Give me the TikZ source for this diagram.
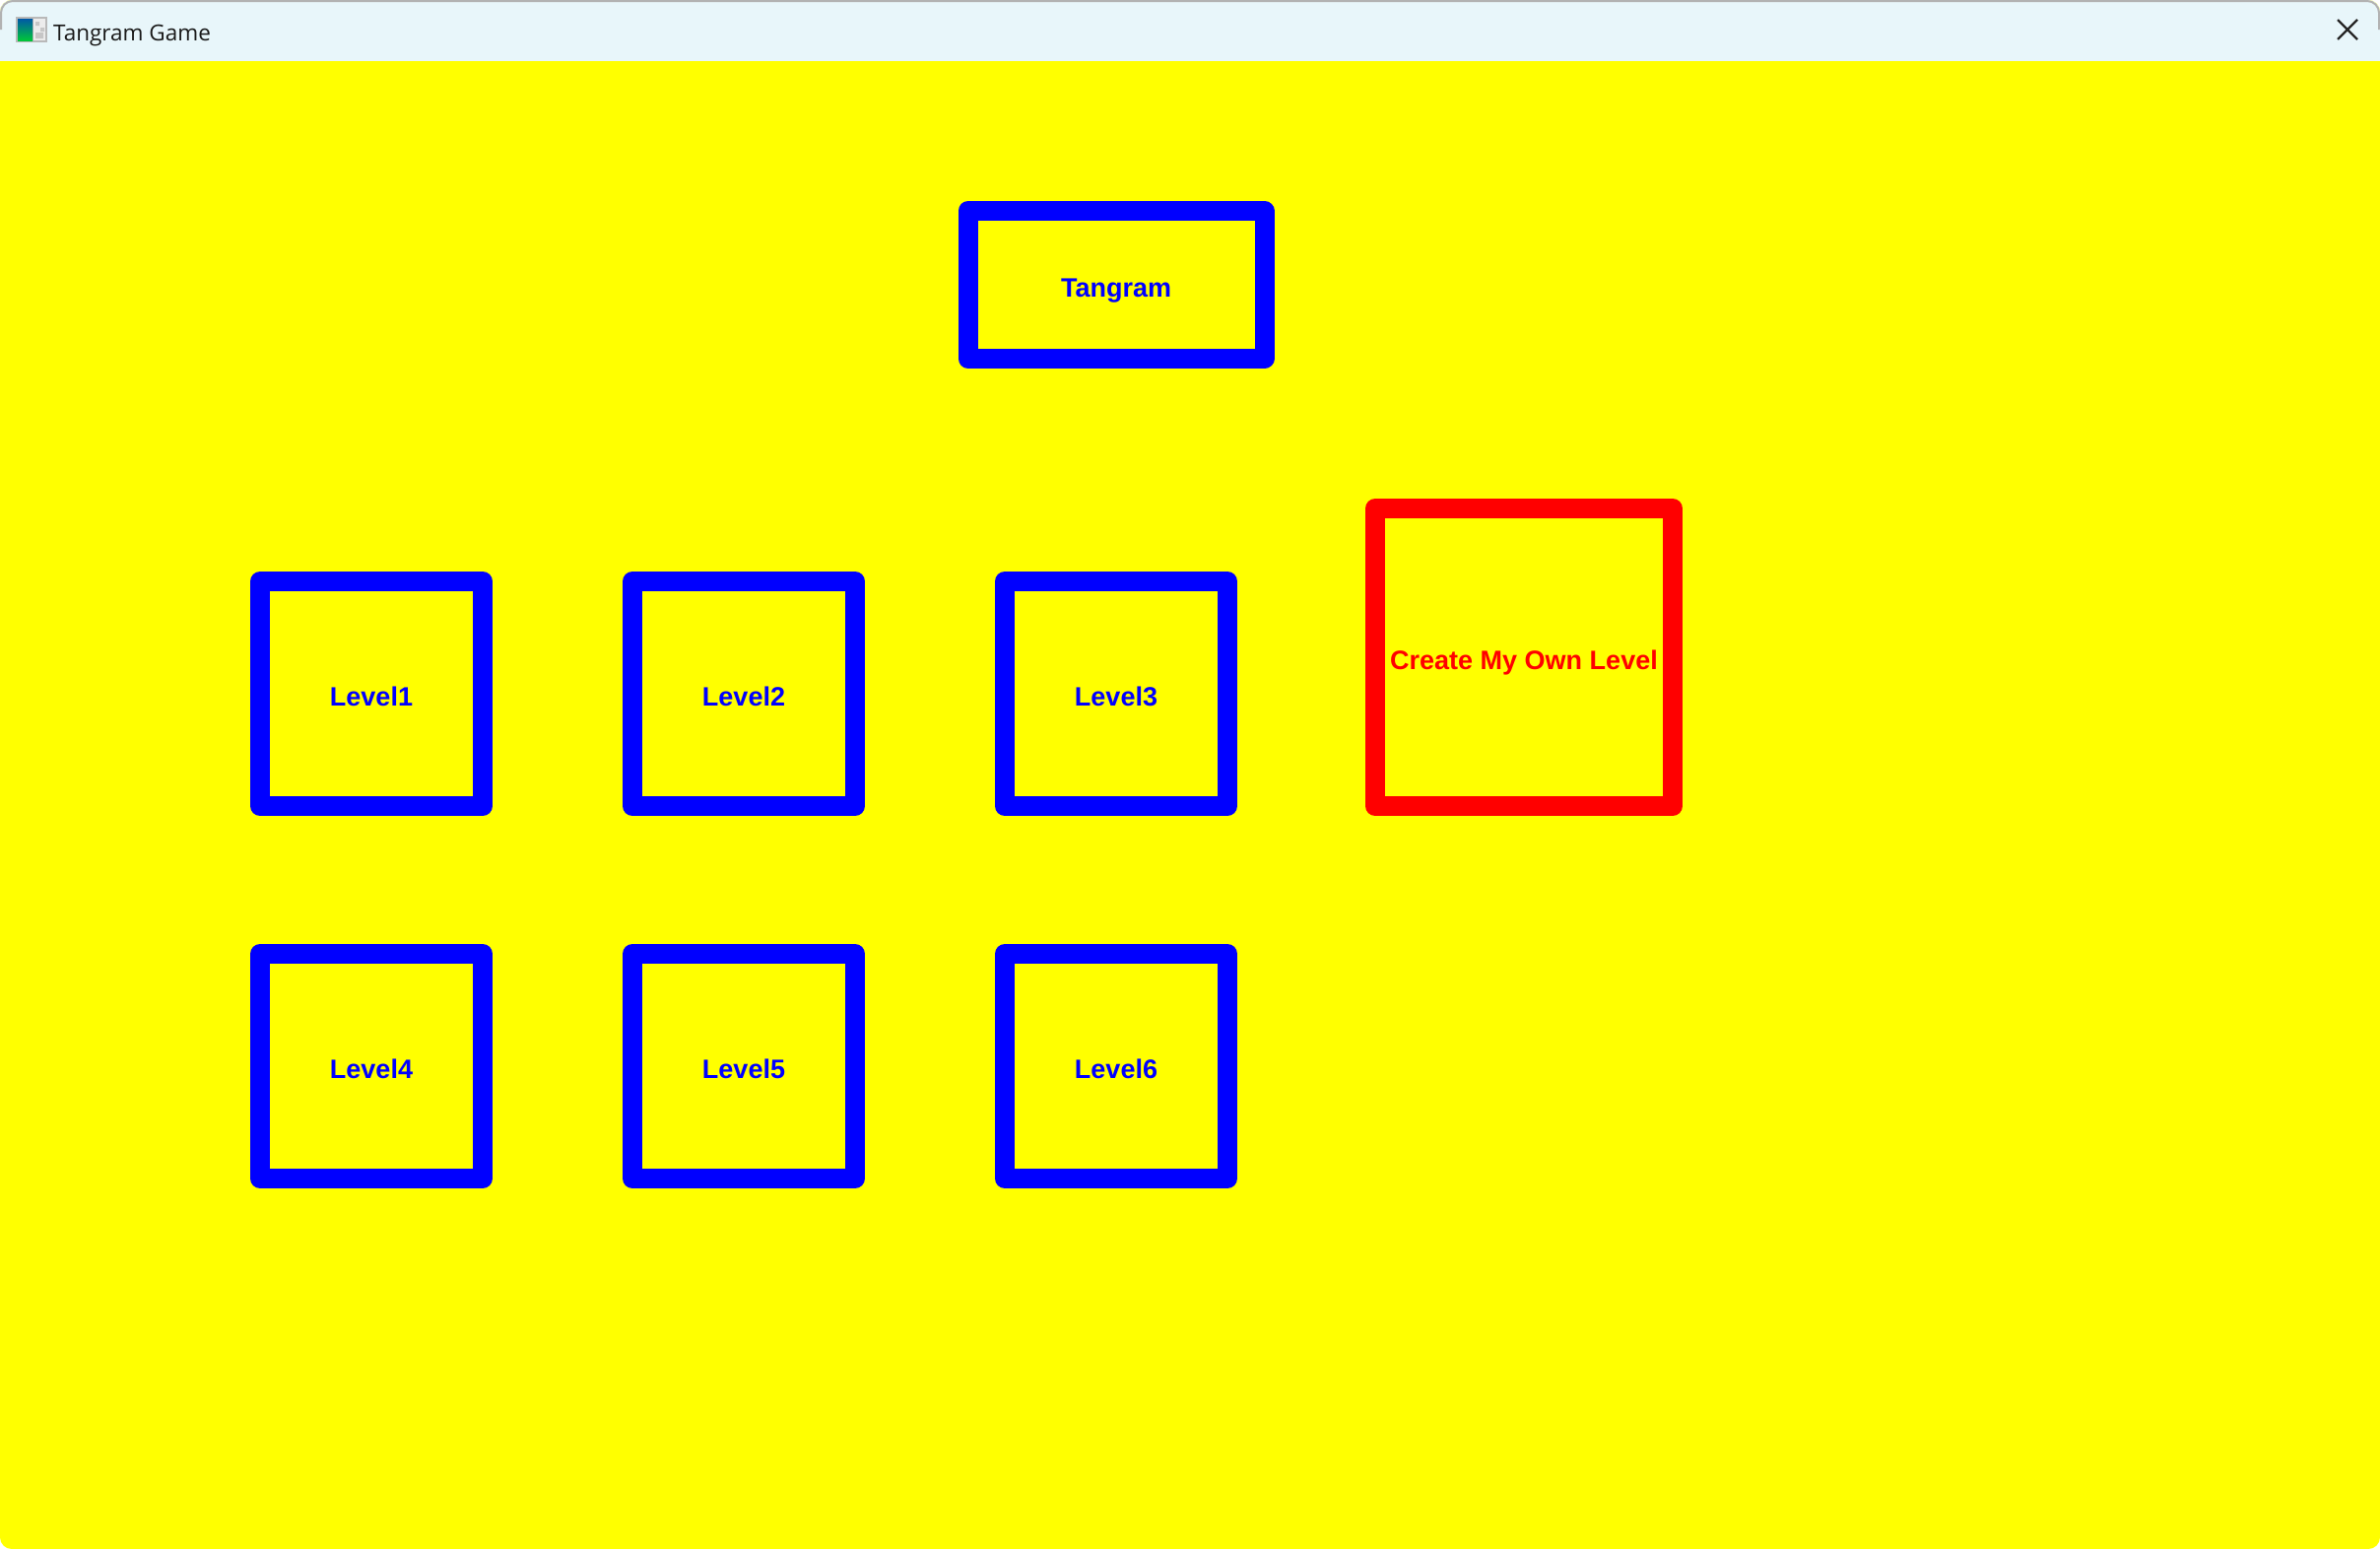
\documentclass[tikz,border=0pt]{standalone}
\usepackage{fontspec}
\setmainfont{Liberation Sans}
\newfontfamily\uifont{Open Sans}
\usetikzlibrary{positioning}

\definecolor{gameyellow}{RGB}{255,255,0}
\definecolor{gameblue}{RGB}{0,0,255}
\definecolor{gamered}{RGB}{255,0,0}
\definecolor{barcyan}{RGB}{232,246,250}
\definecolor{framegray}{RGB}{178,178,178}

\begin{document}
\begin{tikzpicture}[
    x=1pt, y=-1pt,
    node distance=130pt and 132pt,
    btn/.style={rectangle, draw, line width=20pt, line join=round, outer sep=10pt, inner sep=0pt, text height=24pt, text depth=0pt, font=\bfseries\fontsize{27}{30}\selectfont},
    levelbtn/.style={btn, draw=gameblue, text=gameblue, minimum width=226pt, minimum height=228pt},
    titlebtn/.style={btn, draw=gameblue, text=gameblue, minimum width=301pt, minimum height=150pt},
    createbtn/.style={btn, draw=gamered, text=gamered, minimum width=302pt, minimum height=302pt},
    caption/.style={anchor=base west, inner sep=0pt, font=\uifont\fontsize{22.5}{26}\selectfont, text=black!90}
  ]

  % window
  \useasboundingbox (0,0) rectangle (2416,1572);
  \fill[white] (0,0) rectangle (2416,1572);
  \begin{scope}
    \clip[rounded corners=12pt] (0,0) rectangle (2416,1572);
    \fill[gameyellow] (0,0) rectangle (2416,1572);
    \fill[barcyan] (0,0) rectangle (2416,62);
  \end{scope}
  \draw[framegray, line width=2pt, rounded corners=12pt] (1,30) -- (1,1) -- (2415,1) -- (2415,30);

  % title bar
  \fill[gray!55] (16,17) rectangle (48,43);
  \shade[top color=teal!70!blue, bottom color=green!55!teal] (18,19) rectangle (33,41);
  \fill[white!85!gray] (34,19) rectangle (46,41);
  \fill[gray!45] (36,22) rectangle (40,26) (41,28) rectangle (45,32) (36,33) rectangle (44,39);
  \node[caption] (wintitle) at (54,41) {Tangram Game};
  \coordinate (closebtn) at (2383,30);
  \draw[line width=2.2pt, black!85] ([shift={(-10pt,-10pt)}]closebtn) -- ([shift={(10pt,10pt)}]closebtn);
  \draw[line width=2.2pt, black!85] ([shift={(-10pt,10pt)}]closebtn) -- ([shift={(10pt,-10pt)}]closebtn);

  % levels
  \node[levelbtn] (level1) at (377,704) {Level1};
  \node[levelbtn, right=of level1] (level2) {Level2};
  \node[levelbtn, right=of level2] (level3) {Level3};
  \node[levelbtn, below=of level1] (level4) {Level4};
  \node[levelbtn, right=of level4] (level5) {Level5};
  \node[levelbtn, right=of level5] (level6) {Level6};

  % title and editor
  \node[titlebtn, above=206pt of level3] (tangram) {Tangram};
  \node[createbtn, anchor=south west] (create) at ([xshift=130pt]level3.south east) {Create My Own Level};

\end{tikzpicture}
\end{document}
